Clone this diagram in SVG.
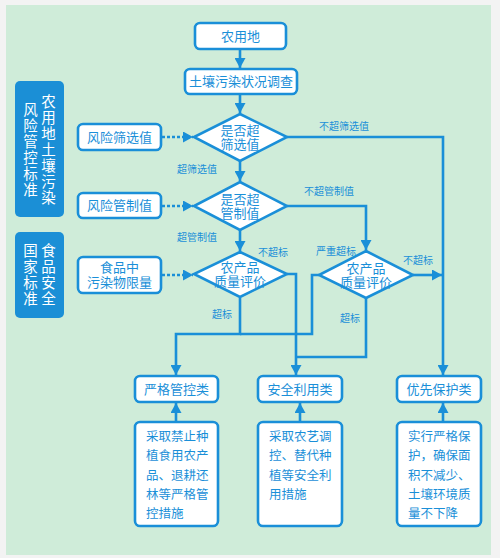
<svg xmlns="http://www.w3.org/2000/svg" width="500" height="558" viewBox="0 0 500 558">
<defs>
<style>
.box{fill:#fff;stroke:#1a8fd8;stroke-width:2.6}
.side{fill:#1b8fd6}
.t{font-family:"Liberation Sans","Noto Sans CJK SC",sans-serif;fill:#1a8fd8;font-size:13px;text-anchor:middle}
.tl{font-family:"Noto Sans CJK SC","Noto Sans",sans-serif;fill:#1a8fd8;font-size:12.5px}
.lab{font-family:"Noto Sans CJK SC","Noto Sans",sans-serif;fill:#1a8fd8;font-size:10px;text-anchor:middle}
.st{font-family:"Noto Sans CJK SC","Noto Sans",sans-serif;fill:#fff;font-size:14.5px;text-anchor:middle;writing-mode:tb;letter-spacing:1.5px}
.ln{fill:none;stroke:#1a8fd8;stroke-width:2.6}
.dash{fill:none;stroke:#1a8fd8;stroke-width:2.6;stroke-dasharray:3 2}
</style>
<marker id="ah" markerUnits="userSpaceOnUse" markerWidth="11" markerHeight="11" refX="10" refY="5.5" orient="auto">
<path d="M0,0 L10,5.5 L0,11 z" fill="#1a8fd8"/>
</marker>
</defs>
<rect x="0" y="0" width="500" height="558" fill="#f3f3f3"/>
<rect x="6" y="5" width="485" height="550" fill="#cfecd9"/>

<g id="connectors">
<path class="ln" d="M240,49 V68" marker-end="url(#ah)"/>
<path class="ln" d="M240,94 V113" marker-end="url(#ah)"/>
<path class="ln" d="M240,161 V181" marker-end="url(#ah)"/>
<path class="ln" d="M240,230 V251" marker-end="url(#ah)"/>
<path class="ln" d="M287,137 H443 V375" marker-end="url(#ah)"/>
<path class="ln" d="M287,206 H366 V250" marker-end="url(#ah)"/>
<path class="ln" d="M287,274 H296 V375" marker-end="url(#ah)"/>
<path class="ln" d="M240,298 V334 H176 V375" marker-end="url(#ah)"/>
<path class="ln" d="M319,275 H312 V334 H240"/>
<path class="ln" d="M366,298 V357 H296"/>
<path class="ln" d="M413,275 H442" marker-end="url(#ah)"/>
<path class="ln" d="M176,422 V403" marker-end="url(#ah)"/>
<path class="ln" d="M300,422 V403" marker-end="url(#ah)"/>
<path class="ln" d="M443,422 V403" marker-end="url(#ah)"/>
<path class="dash" d="M162,137 H193" marker-end="url(#ah)"/>
<path class="dash" d="M162,206 H193" marker-end="url(#ah)"/>
<path class="dash" d="M162,275 H193" marker-end="url(#ah)"/>
<text class="lab" x="197" y="172.5">超筛选值</text>
<text class="lab" x="344" y="129.5">不超筛选值</text>
<text class="lab" x="197" y="240.5">超管制值</text>
<text class="lab" x="329" y="194.5">不超管制值</text>
<text class="lab" x="273" y="255.5">不超标</text>
<text class="lab" x="222" y="317.5">超标</text>
<text class="lab" x="336" y="254.5">严重超标</text>
<text class="lab" x="350" y="321.5">超标</text>
<text class="lab" x="418" y="263.5">不超标</text>
</g>

<g id="side1">
<rect class="side" x="15" y="81" width="49" height="136" rx="5"/>
<text class="st" x="30.5" y="150">风险管控标准</text>
<text class="st" x="48.5" y="150">农用地土壤污染</text>
</g>
<g id="side2">
<rect class="side" x="15" y="232" width="49" height="86" rx="5"/>
<text class="st" x="30.5" y="275">国家标准</text>
<text class="st" x="48.5" y="275">食品安全</text>
</g>

<g id="n-farmland">
<rect class="box" x="195" y="23" width="91" height="26" rx="5"/>
<text class="t" x="240.5" y="40.5">农用地</text>
</g>
<g id="n-survey">
<rect class="box" x="185" y="69" width="112" height="25" rx="5"/>
<text class="t" x="241" y="86">土壤污染状况调查</text>
</g>
<g id="n-screen">
<rect class="box" x="78" y="124" width="83" height="26" rx="5"/>
<text class="t" x="119.5" y="141.5">风险筛选值</text>
</g>
<g id="n-control">
<rect class="box" x="78" y="193" width="83" height="25" rx="5"/>
<text class="t" x="119.5" y="210">风险管制值</text>
</g>
<g id="n-food">
<rect class="box" x="78" y="257" width="83" height="36" rx="5"/>
<text class="t"><tspan x="119.5" y="272">食品中</tspan><tspan x="119.5" y="287">污染物限量</tspan></text>
</g>
<g id="d-screen">
<polygon class="box" points="240,114 287,137 240,161 194,137"/>
<text class="t"><tspan x="240" y="134.7">是否超</tspan><tspan x="240" y="149.3">筛选值</tspan></text>
</g>
<g id="d-control">
<polygon class="box" points="240,182 287,206 240,230 194,206"/>
<text class="t"><tspan x="240" y="203.7">是否超</tspan><tspan x="240" y="218.3">管制值</tspan></text>
</g>
<g id="d-quality1">
<polygon class="box" points="240,252 287,274 240,297 194,274"/>
<text class="t"><tspan x="240" y="271.7">农产品</tspan><tspan x="240" y="286.3">质量评价</tspan></text>
</g>
<g id="d-quality2">
<polygon class="box" points="366,251 413,275 366,298 319,275"/>
<text class="t"><tspan x="366" y="272.7">农产品</tspan><tspan x="366" y="287.3">质量评价</tspan></text>
</g>

<g id="n-strict">
<rect class="box" x="135" y="376" width="83" height="26" rx="5"/>
<text class="t" x="176.5" y="393.5">严格管控类</text>
</g>
<g id="n-safe">
<rect class="box" x="258" y="376" width="84" height="26" rx="5"/>
<text class="t" x="300" y="393.5">安全利用类</text>
</g>
<g id="n-priority">
<rect class="box" x="397" y="376" width="84" height="26" rx="5"/>
<text class="t" x="439" y="393.5">优先保护类</text>
</g>

<g id="n-strict-desc">
<rect class="box" x="135" y="422" width="83" height="104" rx="5"/>
<text class="tl"><tspan x="146" y="441">采取禁止种</tspan><tspan x="146" y="460.3">植食用农产</tspan><tspan x="146" y="479.6">品、退耕还</tspan><tspan x="146" y="498.9">林等严格管</tspan><tspan x="146" y="518.2">控措施</tspan></text>
</g>
<g id="n-safe-desc">
<rect class="box" x="258" y="422" width="84" height="104" rx="5"/>
<text class="tl"><tspan x="269" y="441">采取农艺调</tspan><tspan x="269" y="460.3">控、替代种</tspan><tspan x="269" y="479.6">植等安全利</tspan><tspan x="269" y="498.9">用措施</tspan></text>
</g>
<g id="n-priority-desc">
<rect class="box" x="397" y="422" width="84" height="104" rx="5"/>
<text class="tl"><tspan x="408" y="441">实行严格保</tspan><tspan x="408" y="460.3">护，确保面</tspan><tspan x="408" y="479.6">积不减少、</tspan><tspan x="408" y="498.9">土壤环境质</tspan><tspan x="408" y="518.2">量不下降</tspan></text>
</g>
</svg>
